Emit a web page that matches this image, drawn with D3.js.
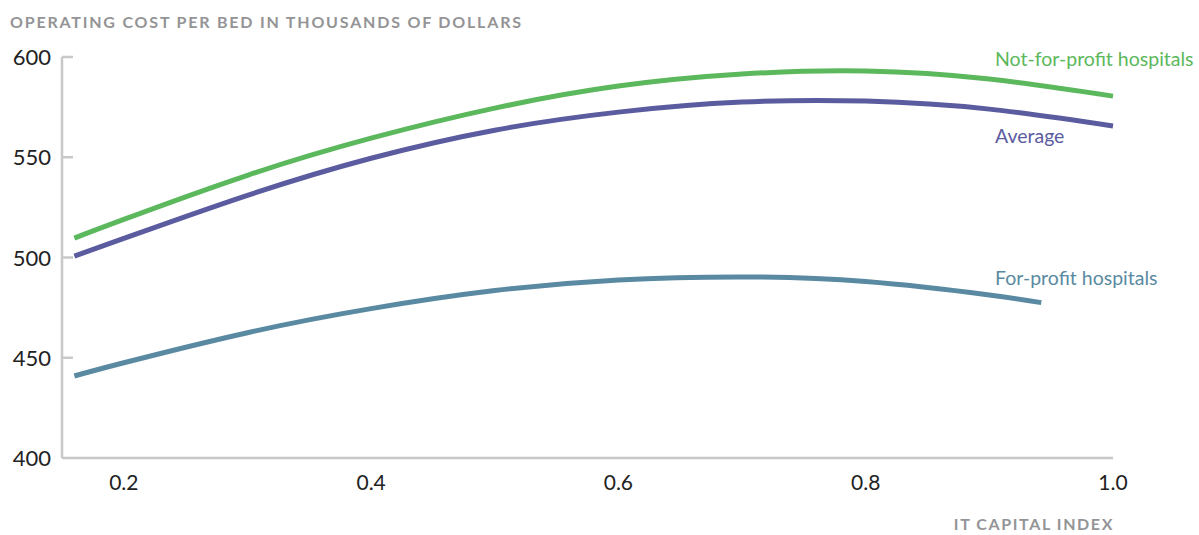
<!DOCTYPE html>
<html>
<head>
<meta charset="utf-8">
<script src="https://cdn.jsdelivr.net/npm/d3@7"></script>
<style>
  body { margin: 0; background: #fff; }
  svg { display: block; font-family: "Lato", "Open Sans", sans-serif; }
</style>
</head>
<body>
<svg id="chart" width="1199" height="535"></svg>
<script>
// values (IT capital index -> cost per bed, $k)
const xIndex = [0.16, 0.2, 0.3, 0.4, 0.5, 0.6, 0.7, 0.8, 0.9, 1.0];
const notForProfit = [509.7, 519, 541, 559.5, 574.5, 585.5, 591.5, 593, 589, 580.5];
const average = [500.7, 509.5, 531, 549.5, 563.5, 572.5, 577.5, 578, 574, 565.6];

const forProfitX = [0.16, 0.2, 0.3, 0.4, 0.5, 0.6, 0.7, 0.8, 0.9, 0.942];
const forProfit = [440.9, 447.5, 462.5, 474.5, 483.5, 488.8, 490.3, 488, 481.3, 477.5];

const yTicks = [400, 450, 500, 550, 600];
const xTicks = [0.2, 0.4, 0.6, 0.8, 1.0];

const series = [
  { name: "Not-for-profit hospitals", xs: xIndex, ys: notForProfit, color: "#5cb85c", labelY: 66 },
  { name: "Average", xs: xIndex, ys: average, color: "#5b5b9f", labelY: 143 },
  { name: "For-profit hospitals", xs: forProfitX, ys: forProfit, color: "#5a8aa2", labelY: 285 }
];

const svg = d3.select("#chart");

const x = d3.scaleLinear().domain([0.15, 1.0]).range([62, 1113]);
const y = d3.scaleLinear().domain([400, 600]).range([458, 57]);

// axes
svg.append("line")
  .attr("x1", x(0.15)).attr("x2", x(0.15))
  .attr("y1", y(600)).attr("y2", y(400))
  .attr("stroke", "#c8c8ca").attr("stroke-width", 2.5);

svg.append("line")
  .attr("x1", x(0.15)).attr("x2", x(1.0))
  .attr("y1", y(400)).attr("y2", y(400))
  .attr("stroke", "#c8c8ca").attr("stroke-width", 2.5);

// y ticks point inward
svg.append("g").selectAll("line")
  .data(yTicks.filter(d => d > 400))
  .enter().append("line")
  .attr("x1", x(0.15)).attr("x2", x(0.15) + 11)
  .attr("y1", d => y(d)).attr("y2", d => y(d))
  .attr("stroke", "#c8c8ca").attr("stroke-width", 2.5);

svg.append("g").selectAll("text")
  .data(yTicks)
  .enter().append("text")
  .attr("x", 51)
  .attr("y", d => y(d) + 8)
  .attr("text-anchor", "end")
  .attr("font-size", 22)
  .attr("fill", "#222")
  .text(d => d);

svg.append("g").selectAll("text")
  .data(xTicks)
  .enter().append("text")
  .attr("x", d => x(d))
  .attr("y", 490)
  .attr("text-anchor", "middle")
  .attr("font-size", 21)
  .attr("fill", "#222")
  .text(d => d3.format(".1f")(d));

// titles
svg.append("text")
  .attr("x", 10).attr("y", 28)
  .attr("font-size", 16)
  .attr("font-weight", "bold")
  .attr("letter-spacing", 1.8)
  .attr("fill", "#949496")
  .text("OPERATING COST PER BED IN THOUSANDS OF DOLLARS");

svg.append("text")
  .attr("x", 1114).attr("y", 530)
  .attr("text-anchor", "end")
  .attr("font-size", 16)
  .attr("font-weight", "bold")
  .attr("letter-spacing", 1.6)
  .attr("fill", "#949496")
  .text("IT CAPITAL INDEX");

// curves
const line = d3.line()
  .x(d => x(d[0]))
  .y(d => y(d[1]))
  .curve(d3.curveNatural);

series.forEach(s => {
  svg.append("path")
    .datum(s.xs.map((v, i) => [v, s.ys[i]]))
    .attr("d", line)
    .attr("fill", "none")
    .attr("stroke", s.color)
    .attr("stroke-width", 5);

  svg.append("text")
    .attr("x", 995)
    .attr("y", s.labelY)
    .attr("font-size", 19.5)
    .attr("fill", s.color)
    .text(s.name);
});
</script>
</body>
</html>
